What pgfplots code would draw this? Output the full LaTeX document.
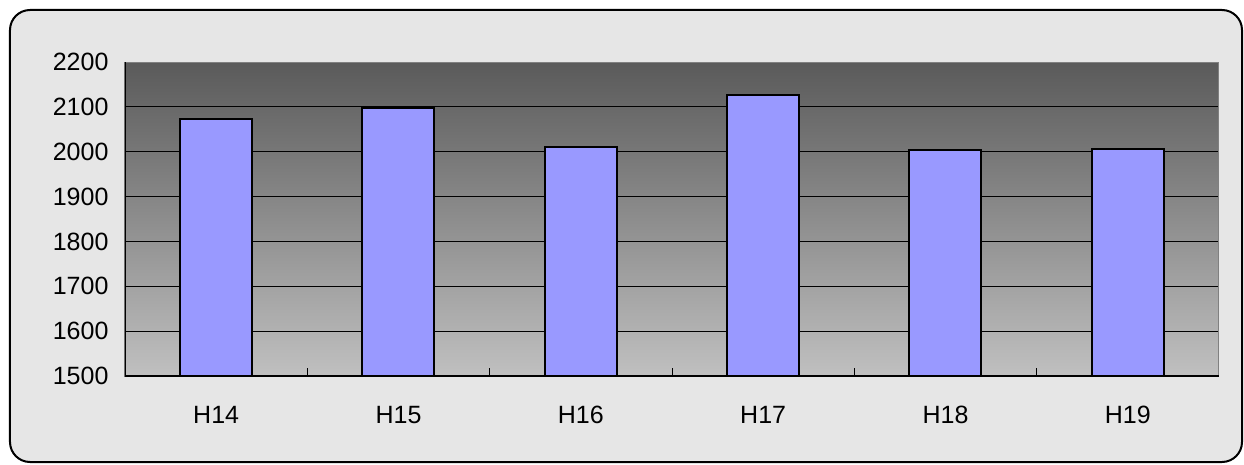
\documentclass[border=0pt]{standalone}
\usepackage{pgfplots}
\pgfplotsset{compat=1.18}
\usepackage{fontspec}
\setmainfont{Liberation Sans}
\definecolor{barblue}{HTML}{9999FF}
\definecolor{plottop}{HTML}{5A5A5A}
\definecolor{plotbot}{HTML}{C0C0C0}
\definecolor{bgtex}{HTML}{E6E6E6}
\begin{document}
\begin{tikzpicture}[x=1pt,y=1pt]
\useasboundingbox (-125,-88) rectangle (1119,376);
\draw[line width=2pt, fill=bgtex, rounded corners=20pt] (-115,-86) rectangle (1117,366);
\begin{axis}[
  ybar, bar width=72pt,
  at={(0,0)}, anchor=south west,
  scale only axis, width=1094pt, height=314pt,
  xmin=-0.5, xmax=5.5, ymin=1500, ymax=2200,
  axis line style={gray, line width=1pt},
  axis background/.style={shade, top color=plottop, bottom color=plotbot},
  ytick={1500,1600,...,2200},
  ymajorgrids, major grid style={black, line width=0.9pt},
  xtick={0,...,5}, xticklabels={H14,H15,H16,H17,H18,H19},
  major x tick style={draw=none},
  extra x ticks={0.5,1.5,2.5,3.5,4.5},
  extra x tick labels={},
  extra x tick style={major x tick style={draw=black, line width=0.9pt}, major tick length=8pt, tick align=inside, grid=none},
  major tick length=8pt,
  tick align=inside,
  xtick pos=bottom, ytick pos=left,
  y tick style={black, line width=0.9pt},
  /pgf/number format/assume math mode=true,
  /pgf/number format/set thousands separator={},
  tick label style={font=\fontsize{25}{29}\selectfont, black},
  yticklabel style={xshift=-13pt},
  xticklabel style={yshift=-27pt},
]
\addplot[fill=barblue, draw=black, line width=2pt] coordinates {
(0,2073) (1,2097) (2,2010) (3,2127) (4,2003) (5,2007)};
\draw[black, line width=1.2pt] (rel axis cs:0,1) -- (rel axis cs:0,0) -- (rel axis cs:1,0);
\end{axis}
\end{tikzpicture}
\end{document}
